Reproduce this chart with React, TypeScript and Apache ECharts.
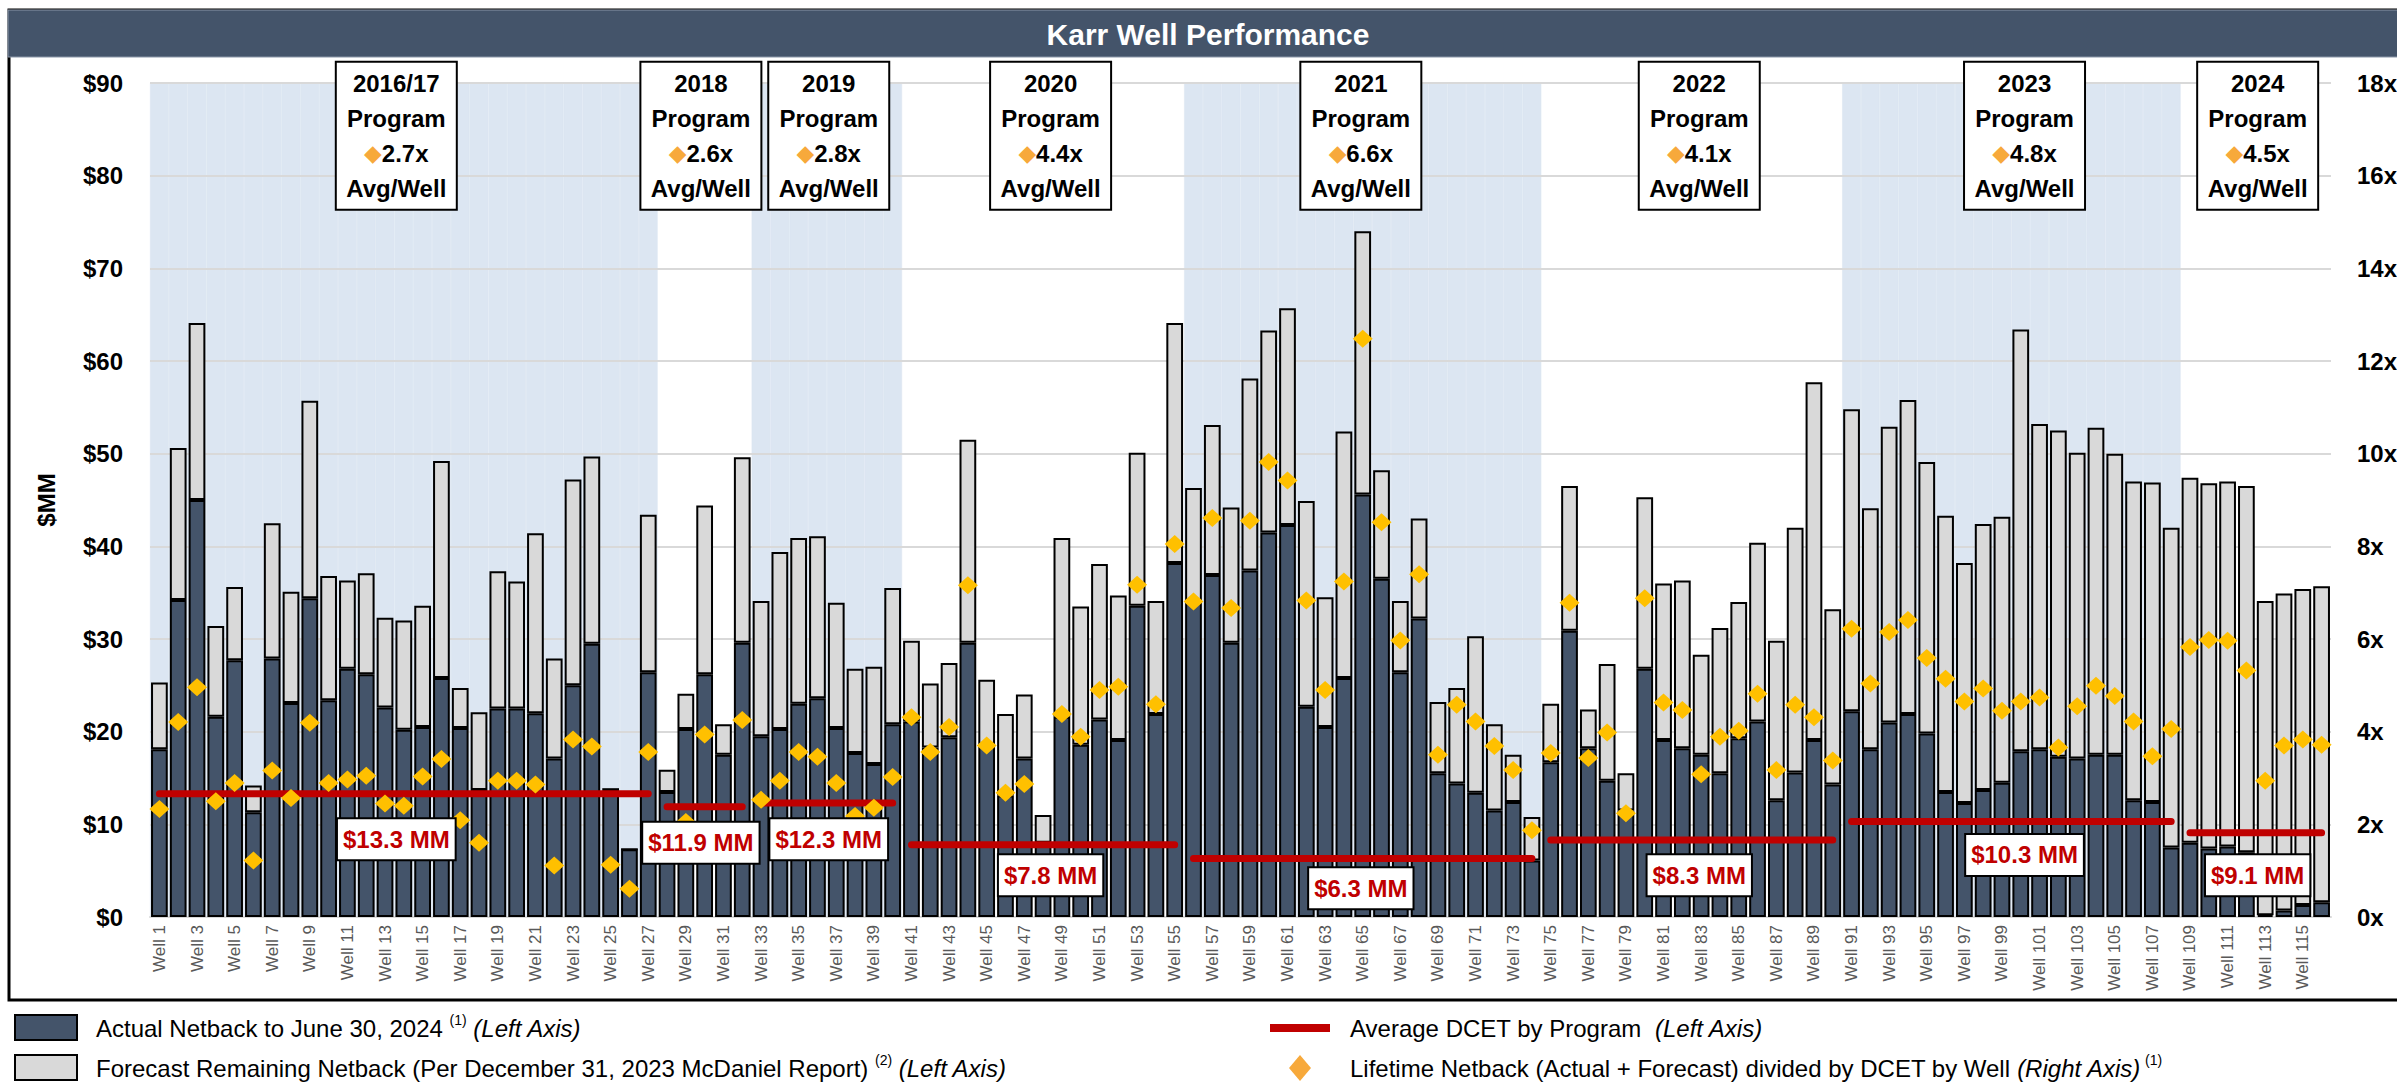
import React, { useEffect, useRef } from 'react';
import * as echarts from 'echarts';

const FONT = '"Liberation Sans", Arial, Helvetica, sans-serif';

// ---------- DATA ----------
const wellCount = 116;
const wells: string[] = Array.from({ length: wellCount }, (_, i) => `Well ${i + 1}`);

// Actual netback to June 30, 2024 ($MM)
const actualNetback = [
  18.1, 34.2, 45.0, 21.6, 27.7, 11.3, 27.9, 23.1, 34.4, 23.4,
  26.8, 26.2, 22.6, 20.2, 20.5, 25.8, 20.4, 13.7, 22.5, 22.5,
  22.0, 17.1, 25.0, 29.5, 13.6, 7.3, 26.4, 13.5, 20.3, 26.2,
  17.5, 29.6, 19.5, 20.3, 23.0, 23.6, 20.4, 17.7, 16.5, 20.8,
  21.1, 18.3, 19.4, 29.6, 18.6, 13.1, 17.1, 8.0, 21.6, 18.6,
  21.3, 19.1, 33.6, 21.9, 38.2, 34.0, 36.9, 29.6, 37.4, 41.5,
  42.3, 22.7, 20.5, 25.8, 45.6, 36.5, 26.4, 32.2, 15.5, 14.4,
  13.4, 11.5, 12.4, 6.1, 16.7, 30.9, 18.2, 14.7, 11.5, 26.8,
  19.1, 18.2, 17.5, 15.5, 19.3, 21.1, 12.6, 15.6, 19.1, 14.3,
  22.2, 18.1, 21.0, 21.9, 19.8, 13.5, 12.3, 13.7, 14.5, 17.9,
  18.1, 17.3, 17.1, 17.5, 17.5, 12.6, 12.4, 7.5, 8.0, 7.4,
  7.6, 7.0, 0.2, 0.7, 1.3, 1.6,
];

// Forecast remaining netback ($MM)
const forecastNetback = [
  7.2, 16.4, 19.1, 9.8, 7.9, 2.9, 14.6, 12.0, 21.3, 13.4,
  9.5, 10.9, 9.7, 11.8, 13.1, 23.4, 4.3, 8.4, 14.8, 13.7,
  19.4, 10.8, 22.2, 20.2, 0.3, 0, 17.0, 2.4, 3.8, 18.2,
  3.3, 20.0, 14.6, 19.1, 17.9, 17.5, 13.5, 9.1, 10.5, 14.7,
  8.7, 6.9, 8.0, 21.9, 7.0, 8.8, 6.9, 3.0, 19.3, 14.9,
  16.8, 15.6, 16.5, 12.2, 25.9, 12.3, 16.2, 14.6, 20.7, 21.8,
  23.4, 22.2, 14.0, 26.6, 28.4, 11.7, 7.7, 10.8, 7.7, 10.3,
  16.9, 9.3, 5.1, 4.7, 6.3, 15.6, 4.2, 12.6, 4.0, 18.5,
  16.9, 18.1, 10.8, 15.7, 14.7, 19.3, 17.2, 26.4, 38.6, 18.9,
  32.6, 26.0, 31.9, 33.9, 29.3, 29.8, 25.9, 28.7, 28.7, 45.5,
  35.1, 35.2, 33.0, 35.3, 32.5, 34.4, 34.5, 34.5, 39.4, 39.4,
  39.4, 39.5, 33.9, 34.2, 34.1, 34.1,
];

// Lifetime netback / DCET by well (x)
const lifetimeMultiple = [
  2.33, 4.21, 4.96, 2.50, 2.89, 1.22, 3.16, 2.57, 4.19, 2.89,
  2.97, 3.05, 2.45, 2.40, 3.03, 3.41, 2.09, 1.60, 2.94, 2.94,
  2.86, 1.11, 3.83, 3.68, 1.13, 0.61, 3.56, 1.40, 2.05, 3.94,
  1.70, 4.25, 2.53, 2.94, 3.56, 3.46, 2.89, 2.18, 2.36, 3.02,
  4.31, 3.56, 4.10, 7.16, 3.70, 2.68, 2.87, 1.15, 4.38, 3.89,
  4.90, 4.97, 7.17, 4.59, 8.05, 6.81, 8.61, 6.67, 8.55, 9.82,
  9.42, 6.83, 4.90, 7.24, 12.48, 8.52, 5.97, 7.40, 3.50, 4.58,
  4.22, 3.69, 3.17, 1.87, 3.54, 6.78, 3.43, 3.98, 2.24, 6.88,
  4.63, 4.47, 3.08, 3.89, 4.02, 4.82, 3.17, 4.58, 4.31, 3.38,
  6.22, 5.04, 6.15, 6.41, 5.59, 5.14, 4.65, 4.93, 4.45, 4.65,
  4.74, 3.66, 4.55, 4.99, 4.77, 4.22, 3.47, 4.06, 5.83, 5.98,
  5.96, 5.32, 2.94, 3.70, 3.83, 3.72,
];

const programNames = ['2016/17', '2018', '2019', '2020', '2021', '2022', '2023', '2024'];
const programFirstWell = [1, 28, 33, 41, 56, 75, 91, 109];
const programLastWell = [27, 32, 40, 55, 74, 90, 108, 116];
const programAvgDcet = [13.3, 11.9, 12.3, 7.8, 6.3, 8.3, 10.3, 9.1];
const programMultiple = [2.7, 2.6, 2.8, 4.4, 6.6, 4.1, 4.8, 4.5];

const leftTicks = { min: 0, max: 90, interval: 10 };
const rightTicks = { min: 0, max: 18, interval: 2 };

// ---------- LAYOUT (positions of annotation boxes, in well units / $MM) ----------
const programBoxX = [13.1, 29.3, 36.1, 47.9, 64.4, 82.4, 99.7, 112.1];
const programBoxY = 84.3;
const dcetLabelY = [8.4, 8.0, 8.4, 4.5, 3.1, 4.5, 6.7, 4.5];

const C_DARK = '#44546a';
const C_GRAY = '#d9d9d9';
const C_BAND = '#dce6f2';
const C_RED = '#c00000';
const C_GOLD = '#ffc000';
const C_ORANGE = '#f7a93b';

function programOf(wellIdx: number): number {
  const n = wellIdx + 1;
  for (let p = 0; p < programNames.length; p++) {
    if (n >= programFirstWell[p] && n <= programLastWell[p]) return p;
  }
  return -1;
}

function buildOption(): any {
  const bandData = wells.map((_, i) => (programOf(i) % 2 === 0 ? leftTicks.max : '-'));

  const avgLines = programNames.map((name, p) => ({
    name: `avg-${name}`,
    type: 'line',
    xAxisIndex: 0,
    yAxisIndex: 0,
    data: wells.map((_, i) => (programOf(i) === p ? programAvgDcet[p] : '-')),
    symbol: 'none',
    connectNulls: false,
    lineStyle: { color: C_RED, width: 7, cap: 'round' },
    z: 3,
    silent: true,
  }));

  const axisLabelStyle = { fontFamily: FONT, fontWeight: 'bold', fontSize: 24, color: '#000' };

  return {
    animation: false,
    backgroundColor: '#ffffff',
    grid: { left: 150, right: 66, top: 83, bottom: 167, containLabel: false, outerBoundsMode: 'none' },
    xAxis: [
      {
        type: 'category',
        data: wells,
        boundaryGap: true,
        axisTick: { show: false },
        axisLine: { show: true, lineStyle: { color: C_GRAY, width: 2 } },
        axisLabel: { interval: 1, rotate: 90, color: '#595959', fontSize: 17, fontFamily: FONT, margin: 8 },
        splitLine: { show: false },
      },
      { type: 'category', data: wells, show: false },
      { type: 'value', min: 0, max: wellCount, show: false },
    ],
    yAxis: [
      {
        type: 'value',
        min: leftTicks.min,
        max: leftTicks.max,
        interval: leftTicks.interval,
        name: '$MM',
        nameLocation: 'middle',
        nameGap: 92,
        nameRotate: 90,
        nameTextStyle: { fontFamily: FONT, fontWeight: 'bold', fontSize: 24, color: '#000' },
        axisLabel: { ...axisLabelStyle, formatter: '${value}', margin: 27 },
        axisLine: { show: false },
        axisTick: { show: false },
        splitLine: { show: true, lineStyle: { color: C_GRAY, width: 2 } },
        z: 1,
      },
      {
        type: 'value',
        position: 'right',
        min: rightTicks.min,
        max: rightTicks.max,
        interval: rightTicks.interval,
        axisLabel: { ...axisLabelStyle, formatter: '{value}x', margin: 26 },
        axisLine: { show: false },
        axisTick: { show: false },
        splitLine: { show: false },
      },
    ],
    series: [
      {
        name: 'band',
        type: 'bar',
        xAxisIndex: 1,
        yAxisIndex: 0,
        barWidth: '100%',
        data: bandData,
        itemStyle: { color: C_BAND, borderColor: C_BAND, borderWidth: 0.6 },
        z: 0,
        silent: true,
      },
      {
        name: 'Actual Netback',
        type: 'bar',
        stack: 'netback',
        xAxisIndex: 0,
        yAxisIndex: 0,
        data: actualNetback,
        barCategoryGap: '11%',
        itemStyle: { color: C_DARK, borderColor: '#000', borderWidth: 2 },
        z: 2,
      },
      {
        name: 'Forecast Remaining Netback',
        type: 'bar',
        stack: 'netback',
        xAxisIndex: 0,
        yAxisIndex: 0,
        data: forecastNetback,
        barCategoryGap: '11%',
        itemStyle: { color: C_GRAY, borderColor: '#000', borderWidth: 2 },
        z: 2,
      },
      ...avgLines,
      {
        name: 'Lifetime Multiple',
        type: 'scatter',
        xAxisIndex: 0,
        yAxisIndex: 1,
        data: lifetimeMultiple,
        symbol: 'diamond',
        symbolSize: [20, 18],
        itemStyle: { color: C_GOLD, opacity: 1 },
        z: 4,
      },
      {
        name: 'dcet-labels',
        type: 'scatter',
        xAxisIndex: 2,
        yAxisIndex: 0,
        clip: false,
        silent: true,
        data: programNames.map((_, p) => [programBoxX[p], dcetLabelY[p]]),
        symbolSize: 1,
        itemStyle: { color: '#fff', opacity: 1 },
        label: {
          show: true,
          position: 'inside',
          formatter: (prm: any) => `$${programAvgDcet[prm.dataIndex].toFixed(1)} MM`,
          color: C_RED,
          fontFamily: FONT,
          fontWeight: 'bold',
          fontSize: 24,
          lineHeight: 26,
          backgroundColor: '#fff',
          borderColor: '#000',
          borderWidth: 2,
          padding: [7, 5, 7, 5],
        },
        z: 6,
      },
      {
        name: 'program-boxes',
        type: 'scatter',
        xAxisIndex: 2,
        yAxisIndex: 0,
        clip: false,
        silent: true,
        data: programNames.map((_, p) => [programBoxX[p], programBoxY]),
        symbolSize: 1,
        itemStyle: { color: '#fff', opacity: 1 },
        label: {
          show: true,
          position: 'inside',
          formatter: (prm: any) => {
            const p = prm.dataIndex;
            return `{t|${programNames[p]}}\n{t|Program}\n{d|◆}{t|${programMultiple[p].toFixed(1)}x}\n{t|Avg/Well}`;
          },
          width: 119,
          align: 'center',
          backgroundColor: '#fff',
          borderColor: '#000',
          borderWidth: 2,
          padding: [3, 0, 3, 0],
          rich: {
            t: { fontFamily: FONT, fontWeight: 'bold', fontSize: 24, lineHeight: 35, color: '#000', align: 'center' },
            d: { fontFamily: '"DejaVu Sans", sans-serif', fontSize: 23, lineHeight: 35, color: C_ORANGE, align: 'center' },
          },
        },
        z: 6,
      },
    ],
    graphic: [
      // outer frame
      {
        type: 'rect',
        z: 10,
        silent: true,
        shape: { x: 9, y: 10, width: 2400, height: 990 },
        style: { fill: 'none', stroke: '#000', lineWidth: 3 },
      },
      // title bar
      {
        type: 'rect',
        z: 11,
        silent: true,
        shape: { x: 8, y: 10, width: 2400, height: 47 },
        style: { fill: C_DARK, stroke: '#8a96a8', lineWidth: 1 },
      },
      {
        type: 'text',
        z: 12,
        silent: true,
        x: 1208,
        y: 34,
        style: {
          text: 'Karr Well Performance',
          fill: '#fff',
          fontFamily: FONT,
          fontWeight: 'bold',
          fontSize: 30,
          align: 'center',
          verticalAlign: 'middle',
        },
      },
      // legend: actual
      {
        type: 'rect',
        silent: true,
        shape: { x: 15, y: 1015, width: 62, height: 25 },
        style: { fill: C_DARK, stroke: '#000', lineWidth: 2 },
      },
      {
        type: 'text',
        silent: true,
        x: 96,
        y: 1028,
        style: {
          text: '{n|Actual Netback to June 30, 2024 }{s|(1)}{i| (Left Axis)}',
          verticalAlign: 'middle',
          rich: {
            n: { fontFamily: FONT, fontSize: 24, lineHeight: 30, fill: '#000' },
            s: { fontFamily: FONT, fontSize: 14, lineHeight: 16, fill: '#000', verticalAlign: 'top' },
            i: { fontFamily: FONT, fontSize: 24, lineHeight: 30, fontStyle: 'italic', fill: '#000' },
          },
        },
      },
      // legend: forecast
      {
        type: 'rect',
        silent: true,
        shape: { x: 15, y: 1055, width: 62, height: 25 },
        style: { fill: C_GRAY, stroke: '#000', lineWidth: 2 },
      },
      {
        type: 'text',
        silent: true,
        x: 96,
        y: 1068,
        style: {
          text: '{n|Forecast Remaining Netback (Per December 31, 2023 McDaniel Report) }{s|(2)}{i| (Left Axis)}',
          verticalAlign: 'middle',
          rich: {
            n: { fontFamily: FONT, fontSize: 24, lineHeight: 30, fill: '#000' },
            s: { fontFamily: FONT, fontSize: 14, lineHeight: 16, fill: '#000', verticalAlign: 'top' },
            i: { fontFamily: FONT, fontSize: 24, lineHeight: 30, fontStyle: 'italic', fill: '#000' },
          },
        },
      },
      // legend: average DCET
      {
        type: 'line',
        silent: true,
        shape: { x1: 1270, y1: 1028, x2: 1330, y2: 1028 },
        style: { stroke: C_RED, lineWidth: 8 },
      },
      {
        type: 'text',
        silent: true,
        x: 1350,
        y: 1028,
        style: {
          text: '{n|Average DCET by Program  }{i|(Left Axis)}',
          verticalAlign: 'middle',
          rich: {
            n: { fontFamily: FONT, fontSize: 24, lineHeight: 30, fill: '#000' },
            i: { fontFamily: FONT, fontSize: 24, lineHeight: 30, fontStyle: 'italic', fill: '#000' },
          },
        },
      },
      // legend: lifetime multiple
      {
        type: 'polygon',
        silent: true,
        shape: { points: [[1300, 1055], [1311, 1068], [1300, 1081], [1289, 1068]] },
        style: { fill: C_ORANGE },
      },
      {
        type: 'text',
        silent: true,
        x: 1350,
        y: 1068,
        style: {
          text: '{n|Lifetime Netback (Actual + Forecast) divided by DCET by Well }{i|(Right Axis)}{s| (1)}',
          verticalAlign: 'middle',
          rich: {
            n: { fontFamily: FONT, fontSize: 24, lineHeight: 30, fill: '#000' },
            s: { fontFamily: FONT, fontSize: 14, lineHeight: 16, fill: '#000', verticalAlign: 'top' },
            i: { fontFamily: FONT, fontSize: 24, lineHeight: 30, fontStyle: 'italic', fill: '#000' },
          },
        },
      },
    ],
  };
}

export default function App() {
  const ref = useRef<HTMLDivElement | null>(null);

  useEffect(() => {
    const prevMargin = document.body.style.margin;
    const prevOverflow = document.body.style.overflow;
    document.body.style.margin = '0';
    document.body.style.overflow = 'hidden';
    if (!ref.current) return;
    const chart = echarts.init(ref.current, undefined, { renderer: 'svg' });
    chart.setOption(buildOption());
    return () => {
      chart.dispose();
      document.body.style.margin = prevMargin;
      document.body.style.overflow = prevOverflow;
    };
  }, []);

  return <div ref={ref} style={{ width: 2397, height: 1084, background: '#fff' }} />;
}
